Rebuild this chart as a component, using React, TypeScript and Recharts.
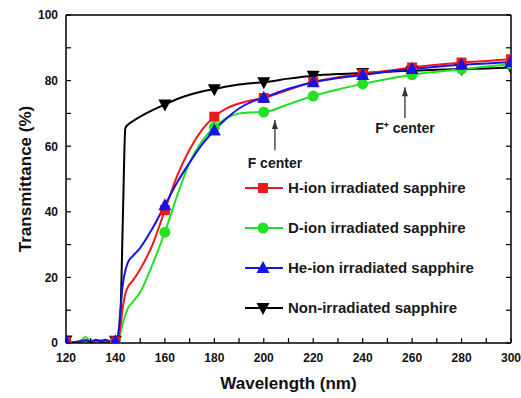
import React from 'react';
import { ComposedChart, Line, XAxis, YAxis, Legend, ReferenceLine, ReferenceDot } from 'recharts';

const FONT = '"Liberation Sans", Arial, Helvetica, sans-serif';

const wavelength = [120, 122, 124, 126, 128, 130, 132, 134, 136, 138, 140, 141, 142, 143, 144, 145, 147, 150, 155, 160, 165, 170, 175, 180, 185, 190, 195, 200, 210, 220, 230, 240, 250, 260, 270, 280, 290, 300];

const nonIrradiated = [0.8, 0.3, 0.2, 0.4, 0.7, 0.3, 0.6, 0.4, 0.3, 0.5, 0.7, 0.9, 8, 38, 65.5, 66.5, 67.6, 69, 71, 72.7, 74.4, 75.7, 76.7, 77.4, 78.2, 78.8, 79.2, 79.5, 80.6, 81.5, 82, 82.3, 82.7, 83, 83.3, 83.5, 83.7, 84];
const hIon = [0.3, 0.2, 0.3, 0.5, 0.6, 0.3, 0.5, 0.6, 0.3, 0.4, 0.5, 1, 5, 11, 15, 17, 19, 22.5, 30, 40.5, 51, 59, 65, 69, 71.5, 73, 74, 74.7, 77.2, 79.6, 81, 82, 83, 84, 84.8, 85.5, 86, 86.5];
const dIon = [0.2, 0.3, 0.4, 0.8, 1.8, 0.5, 0.6, 0.9, 0.4, 0.3, 0.4, 0.6, 3, 6, 8.5, 10.5, 12.5, 15.5, 24, 33.8, 45, 55, 61.5, 65.8, 68.6, 70, 70.3, 70.4, 72.8, 75.3, 77.3, 79, 80.5, 81.8, 82.7, 83.5, 84.3, 85];
const heIon = [0.4, 0.2, 0.3, 0.6, 0.9, 0.4, 1, 0.6, 1, 0.4, 0.5, 2, 10, 18, 22, 24.5, 26.5, 29, 35, 42, 49, 55, 60.5, 64.8, 68.5, 71.5, 73.5, 74.8, 77.5, 79.5, 80.8, 81.7, 82.7, 83.5, 84.2, 84.8, 85.2, 85.7];

const xTicks = [120, 130, 140, 150, 160, 170, 180, 190, 200, 210, 220, 230, 240, 250, 260, 270, 280, 290, 300];
const yTicks = [0, 10, 20, 30, 40, 50, 60, 70, 80, 90, 100];

const seriesNames = ['H-ion irradiated sapphire', 'D-ion irradiated sapphire', 'He-ion irradiated sapphire', 'Non-irradiated sapphire'];
const seriesKeys = ['h', 'd', 'he', 'non'];
const seriesColors = ['#f01818', '#22e022', '#1414e6', '#000000'];
const seriesMarkers = ['square', 'circle', 'triangleUp', 'triangleDown'];

const annotationLabels = ['F center', 'F\u207A center'];
const annotationX = [204.5, 257.1];
const annotationTail = [58.8, 68.6];
const annotationTip = [68, 78];
const annotationTextX = [204.5, 257.1];
const annotationTextY = [54.9, 65.5];

const data = wavelength.map((w, i) => ({
  w,
  non: nonIrradiated[i],
  h: hIon[i],
  d: dIon[i],
  he: heIon[i],
}));

function marker(kind: string, cx: number, cy: number, color: string, key?: string) {
  switch (kind) {
    case 'square':
      return <rect key={key} x={cx - 5} y={cy - 5} width={10} height={10} fill={color} />;
    case 'circle':
      return <circle key={key} cx={cx} cy={cy} r={5.5} fill={color} />;
    case 'triangleUp':
      return <polygon key={key} points={`${cx},${cy - 7} ${cx - 6.5},${cy + 5} ${cx + 6.5},${cy + 5}`} fill={color} />;
    default:
      return <polygon key={key} points={`${cx - 6.5},${cy - 5} ${cx + 6.5},${cy - 5} ${cx},${cy + 7}`} fill={color} />;
  }
}

function makeDot(kind: string, color: string, name: string) {
  return (props: any) => {
    const { cx, cy, payload, index } = props;
    const k = `${name}-${index}`;
    if (payload == null || payload.w % 20 !== 0 || cx == null || cy == null) return <g key={k} />;
    return marker(kind, cx, cy, color, k);
  };
}

const XTick = (props: any) => {
  const { x, y, payload } = props;
  if (payload.value % 20 !== 0) return <g />;
  return (
    <text x={x} y={y + 18.5} textAnchor="middle" fontFamily={FONT} fontWeight="bold" fontSize={12} fill="#111">
      {payload.value}
    </text>
  );
};

const YTick = (props: any) => {
  const { x, y, payload } = props;
  if (payload.value % 20 !== 0) return <g />;
  return (
    <text x={x - 8} y={y + 4.4} textAnchor="end" fontFamily={FONT} fontWeight="bold" fontSize={12} fill="#111">
      {payload.value}
    </text>
  );
};

const Empty = () => <g />;

const LegendBox = () => (
  <svg width={270} height={150} style={{ display: 'block' }}>
    {seriesNames.map((n, i) => {
      const cy = 12 + i * 40;
      return (
        <g key={n}>
          <line x1={0} x2={38} y1={cy} y2={cy} stroke={seriesColors[i]} strokeWidth={2} />
          {marker(seriesMarkers[i], 18, cy, seriesColors[i])}
          <text x={43} y={cy + 5.4} fontFamily={FONT} fontWeight="bold" fontSize={15} fill="#1a1a1a">
            {n}
          </text>
        </g>
      );
    })}
  </svg>
);

const ArrowHead = (props: any) => {
  const { cx, cy } = props;
  return <polygon points={`${cx},${cy} ${cx - 3},${cy + 9} ${cx + 3},${cy + 9}`} fill="#333" />;
};

const axisStroke = { stroke: '#000', strokeWidth: 1.5 };
const tickStroke = { stroke: '#000', strokeWidth: 1.2 };

export default function App() {
  const drawOrder = [3, 1, 0, 2];
  return (
    <div style={{ position: 'absolute', left: 0, top: 0, width: 521, height: 398 }}>
      <ComposedChart
        width={521}
        height={398}
        data={data}
        margin={{ top: 14, right: 9, bottom: 0, left: 8 }}
        style={{ fontFamily: FONT }}
      >
        <XAxis
          dataKey="w"
          type="number"
          domain={[120, 300]}
          allowDataOverflow
          ticks={xTicks}
          interval={0}
          tickSize={-5}
          tickMargin={5}
          tickLine={tickStroke}
          axisLine={axisStroke}
          tick={<XTick />}
          height={55}
          label={{ value: 'Wavelength (nm)', position: 'insideBottom', offset: 9, style: { fontSize: 17, fontWeight: 'bold', fill: '#111', fontFamily: FONT } }}
        />
        <XAxis
          xAxisId="top"
          orientation="top"
          type="number"
          domain={[120, 300]}
          allowDataOverflow
          ticks={xTicks}
          interval={0}
          tickSize={-5}
          tickLine={tickStroke}
          axisLine={axisStroke}
          tick={<Empty />}
          height={1}
        />
        <YAxis
          type="number"
          domain={[0, 100]}
          allowDataOverflow
          ticks={yTicks}
          interval={0}
          tickSize={-5}
          tickMargin={5}
          tickLine={tickStroke}
          axisLine={axisStroke}
          tick={<YTick />}
          width={58}
          label={{ value: 'Transmittance (%)', angle: -90, position: 'insideLeft', offset: 17, style: { textAnchor: 'middle', fontSize: 17, fontWeight: 'bold', fill: '#111', fontFamily: FONT } }}
        />
        <YAxis
          yAxisId="right"
          orientation="right"
          type="number"
          domain={[0, 100]}
          allowDataOverflow
          ticks={yTicks}
          interval={0}
          tickSize={-5}
          tickLine={tickStroke}
          axisLine={axisStroke}
          tick={<Empty />}
          width={1}
        />
        {drawOrder.map((i) => (
          <Line
            key={seriesKeys[i]}
            dataKey={seriesKeys[i]}
            name={seriesNames[i]}
            type="monotone"
            stroke={seriesColors[i]}
            strokeWidth={2}
            dot={makeDot(seriesMarkers[i], seriesColors[i], seriesKeys[i])}
            activeDot={false}
            isAnimationActive={false}
          />
        ))}
        {annotationLabels.map((t, i) => (
          <ReferenceLine
            key={`al-${i}`}
            segment={[{ x: annotationX[i], y: annotationTail[i] }, { x: annotationX[i], y: annotationTip[i] }]}
            stroke="#333"
            strokeWidth={1.3}
          />
        ))}
        {annotationLabels.map((t, i) => (
          <ReferenceDot key={`ah-${i}`} x={annotationX[i]} y={annotationTip[i]} shape={<ArrowHead />} />
        ))}
        {annotationLabels.map((t, i) => (
          <ReferenceDot
            key={`at-${i}`}
            x={annotationTextX[i]}
            y={annotationTextY[i]}
            r={0}
            fill="none"
            stroke="none"
            label={{ value: t, position: 'center', style: { fontSize: 14, fontWeight: 'bold', fill: '#1a1a1a', fontFamily: FONT } }}
          />
        ))}
        <Legend
          layout="vertical"
          align="center"
          verticalAlign="middle"
          content={() => <LegendBox />}
          wrapperStyle={{ left: 245, top: 176, width: 270, height: 150 }}
        />
      </ComposedChart>
    </div>
  );
}
